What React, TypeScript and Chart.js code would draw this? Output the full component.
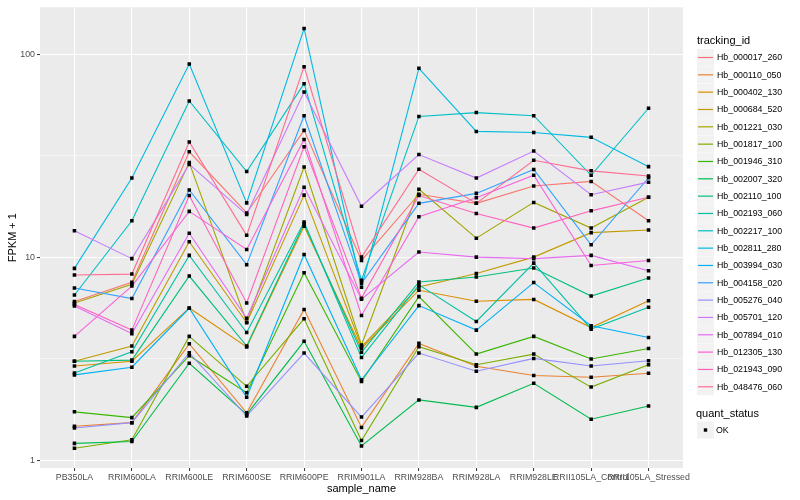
import { useEffect, useRef } from "react";
import { Chart, registerables } from "chart.js";
Chart.register(...registerables);

const FONT = '"Liberation Sans", Arial, Helvetica, sans-serif';

const categories = [
  "PB350LA", "RRIM600LA", "RRIM600LE", "RRIM600SE", "RRIM600PE", "RRIM901LA",
  "RRIM928BA", "RRIM928LA", "RRIM928LE", "RRII105LA_Control", "RRII105LA_Stressed",
];

const trackingIds = [
  "Hb_000017_260", "Hb_000110_050", "Hb_000402_130", "Hb_000684_520", "Hb_001221_030",
  "Hb_001817_100", "Hb_001946_310", "Hb_002007_320", "Hb_002110_100", "Hb_002193_060",
  "Hb_002217_100", "Hb_002811_280", "Hb_003994_030", "Hb_004158_020", "Hb_005276_040",
  "Hb_005701_120", "Hb_007894_010", "Hb_012305_130", "Hb_021943_090", "Hb_048476_060",
];

const seriesColors = [
  "#F8766D", "#EA8331", "#D89000", "#C09B00", "#A3A500", "#7CAE00", "#39B600", "#00BB4E",
  "#00BF7D", "#00C1A3", "#00BFC4", "#00BAE0", "#00B0F6", "#35A2FF", "#9590FF", "#C77CFF",
  "#E76BF3", "#FA62DB", "#FF62BC", "#FF6C91",
];

// FPKM + 1 per sample (order of categories)
const hb000017_260 = [6.04, 7.52, 33.0, 16.5, 42.1, 9.63, 20.4, 18.4, 22.4, 23.6, 15.1];
const hb000110_050 = [1.47, 1.53, 3.74, 1.71, 5.52, 1.45, 3.76, 2.9, 2.61, 2.56, 2.68];
const hb000402_130 = [2.91, 3.07, 5.62, 3.61, 14.2, 3.55, 6.87, 6.06, 6.19, 4.5, 6.1];
const hb000684_520 = [3.07, 3.65, 11.9, 4.75, 20.2, 3.62, 7.13, 8.3, 10.0, 13.2, 13.6];
const hb001221_030 = [5.95, 7.35, 29.2, 4.78, 27.8, 3.69, 21.6, 12.4, 18.6, 13.9, 19.7];
const hb001817_100 = [1.145, 1.26, 4.07, 2.31, 4.97, 1.25, 3.62, 2.95, 3.33, 2.29, 2.95];
const hb001946_310 = [1.73, 1.62, 3.27, 2.15, 8.38, 2.44, 6.39, 3.33, 4.07, 3.15, 3.55];
const hb002007_320 = [1.21, 1.235, 3.0, 1.68, 3.85, 1.175, 1.98, 1.82, 2.39, 1.59, 1.85];
const hb002110_100 = [3.07, 3.11, 8.07, 3.65, 14.6, 3.4, 7.54, 7.98, 8.84, 6.43, 7.9];
const hb002193_060 = [2.69, 3.42, 10.2, 4.25, 14.9, 3.2, 7.3, 4.82, 9.34, 4.42, 5.66];
const hb002217_100 = [6.51, 15.1, 58.8, 26.4, 71.5, 7.7, 49.3, 51.5, 49.7, 25.3, 54.1];
const hb002811_280 = [8.8, 24.5, 89.3, 18.5, 133.6, 7.1, 85.1, 41.6, 41.1, 38.9, 27.9];
const hb003994_030 = [2.63, 2.87, 5.6, 2.04, 10.3, 2.49, 5.77, 4.37, 7.49, 4.59, 4.02];
const hb004158_020 = [7.05, 6.25, 21.4, 9.18, 49.7, 7.43, 18.4, 20.6, 27.0, 11.5, 24.6];
const hb005276_040 = [1.44, 1.53, 3.38, 1.65, 3.37, 1.63, 3.37, 2.74, 3.17, 2.91, 3.09];
const hb005701_120 = [13.5, 9.83, 28.6, 16.2, 65.1, 17.8, 32.0, 24.5, 33.3, 20.3, 23.4];
const hb007894_010 = [5.75, 4.2, 13.1, 5.0, 22.1, 6.21, 10.6, 10.0, 9.83, 10.2, 8.57];
const hb012305_130 = [4.07, 7.2, 16.8, 10.9, 38.0, 5.16, 15.8, 19.6, 25.3, 9.1, 9.63];
const hb021943_090 = [5.85, 4.37, 20.1, 5.95, 35.0, 6.28, 20.1, 16.4, 13.9, 16.9, 19.7];
const hb048476_060 = [8.16, 8.25, 36.9, 12.8, 86.7, 10.0, 27.1, 18.4, 30.0, 26.6, 25.1];

const seriesValues = [
  hb000017_260, hb000110_050, hb000402_130, hb000684_520, hb001221_030,
  hb001817_100, hb001946_310, hb002007_320, hb002110_100, hb002193_060,
  hb002217_100, hb002811_280, hb003994_030, hb004158_020, hb005276_040,
  hb005701_120, hb007894_010, hb012305_130, hb021943_090, hb048476_060,
];

const yMajorTicks = [1, 10, 100];
const yMinorTicks = [3.1623, 31.623];
const quantStatus = ["OK"];

const isMajor = (v: number) => yMajorTicks.some((m) => Math.abs(m - v) < 1e-6);

const bgPlugin = {
  id: "ggBg",
  beforeDraw(chart: any) {
    const { ctx, chartArea } = chart;
    ctx.save();
    ctx.fillStyle = "#FFFFFF";
    ctx.fillRect(0, 0, chart.width, chart.height);
    ctx.fillStyle = "#EBEBEB";
    ctx.fillRect(chartArea.left, chartArea.top, chartArea.right - chartArea.left, chartArea.bottom - chartArea.top);
    ctx.restore();
  },
};

const legendPlugin = {
  id: "ggLegend",
  afterDraw(chart: any) {
    const ctx = chart.ctx;
    const x0 = 697;
    const keyW = 17;
    const step = 17.33;
    ctx.save();
    ctx.fillStyle = "#000000";
    ctx.font = `11px ${FONT}`;
    ctx.textBaseline = "alphabetic";
    ctx.textAlign = "left";
    ctx.fillText("tracking_id", x0, 44);
    const lines = chart.data.datasets.filter((d: any) => d.type === "line");
    lines.forEach((d: any, i: number) => {
      const top = 49 + i * step;
      ctx.fillStyle = "#F2F2F2";
      ctx.fillRect(x0, top, keyW, keyW);
      ctx.strokeStyle = d.borderColor;
      ctx.lineWidth = 1.2;
      ctx.beginPath();
      ctx.moveTo(x0 + 1, top + keyW / 2);
      ctx.lineTo(x0 + keyW - 1, top + keyW / 2);
      ctx.stroke();
      ctx.fillStyle = "#000000";
      ctx.font = `8.8px ${FONT}`;
      ctx.textBaseline = "middle";
      ctx.fillText(d.label, 717, top + keyW / 2 + 0.5);
    });
    ctx.font = `11px ${FONT}`;
    ctx.textBaseline = "alphabetic";
    ctx.fillText("quant_status", x0 - 1, 417);
    quantStatus.forEach((q, i) => {
      const top = 421.5 + i * step;
      ctx.fillStyle = "#F2F2F2";
      ctx.fillRect(x0, top, keyW, keyW);
      ctx.fillStyle = "#000000";
      ctx.fillRect(x0 + keyW / 2 - 1.7, top + keyW / 2 - 1.7, 3.4, 3.4);
      ctx.font = `8.8px ${FONT}`;
      ctx.textBaseline = "middle";
      ctx.fillText(q, 716, top + keyW / 2 + 0.5);
    });
    ctx.restore();
  },
};

export default function App() {
  const ref = useRef<HTMLCanvasElement | null>(null);
  useEffect(() => {
    if (!ref.current) return;
    const n = seriesValues.length;
    const datasets: any[] = seriesValues.map((vals, i) => ({
      type: "line",
      label: trackingIds[i],
      data: vals.map((v, j) => ({ x: j, y: v })),
      borderColor: seriesColors[i],
      backgroundColor: seriesColors[i],
      borderWidth: 1.1,
      pointRadius: 0,
      tension: 0,
      fill: false,
      order: n - i + 1,
    }));
    datasets.push({
      type: "scatter",
      label: quantStatus[0],
      data: seriesValues.flatMap((vals) => vals.map((v, j) => ({ x: j, y: v }))),
      backgroundColor: "#000000",
      borderColor: "#000000",
      borderWidth: 0,
      pointStyle: "rect",
      pointRadius: 2.5,
      showLine: false,
      order: 0,
    });
    const chart = new Chart(ref.current, {
      type: "line",
      data: { datasets },
      plugins: [bgPlugin, legendPlugin],
      options: {
        animation: false,
        responsive: false,
        devicePixelRatio: 1,
        layout: { padding: { left: 0, right: 117, top: 5, bottom: 0 } },
        plugins: { legend: { display: false }, tooltip: { enabled: false } },
        scales: {
          x: {
            type: "linear",
            min: -0.6,
            max: categories.length - 1 + 0.6,
            afterBuildTicks: (axis: any) => {
              axis.ticks = categories.map((_, i) => ({ value: i }));
            },
            afterFit: (s: any) => {
              s.height = 32;
            },
            ticks: {
              autoSkip: false,
              maxRotation: 0,
              minRotation: 0,
              padding: 1,
              color: "#4D4D4D",
              font: { family: FONT, size: 8.8 },
              callback: (v: any) => categories[Math.round(Number(v))] ?? "",
            },
            grid: {
              color: "#FFFFFF",
              lineWidth: 1.1,
              tickLength: 3,
              tickWidth: 1,
              tickColor: "#333333",
            },
            border: { display: false },
            title: {
              display: true,
              text: "sample_name",
              color: "#000000",
              font: { family: FONT, size: 11 },
              padding: { top: 0, bottom: 4 },
            },
          },
          y: {
            type: "logarithmic",
            min: 0.915,
            max: 170,
            afterBuildTicks: (axis: any) => {
              axis.ticks = [...yMajorTicks, ...yMinorTicks]
                .sort((a, b) => a - b)
                .map((v) => ({ value: v }));
            },
            afterFit: (s: any) => {
              s.width = 40;
            },
            ticks: {
              autoSkip: false,
              padding: 2,
              color: "#4D4D4D",
              font: { family: FONT, size: 8.8 },
              callback: (v: any) => (isMajor(Number(v)) ? String(v) : ""),
            },
            grid: {
              color: "#FFFFFF",
              lineWidth: (c: any) => (c.tick && isMajor(c.tick.value) ? 1.1 : 0.55),
              tickLength: 3,
              tickWidth: 1,
              tickColor: (c: any) => (c.tick && isMajor(c.tick.value) ? "#333333" : "rgba(0,0,0,0)"),
            },
            border: { display: false },
            title: {
              display: true,
              text: "FPKM + 1",
              color: "#000000",
              font: { family: FONT, size: 11 },
              padding: { top: 6, bottom: 0 },
            },
          },
        },
      } as any,
    });
    return () => chart.destroy();
  }, []);
  return (
    <div style={{ position: "absolute", left: 0, top: 0, width: 800, height: 500, background: "#fff" }}>
      <canvas ref={ref} width={800} height={500} style={{ display: "block" }} />
    </div>
  );
}
